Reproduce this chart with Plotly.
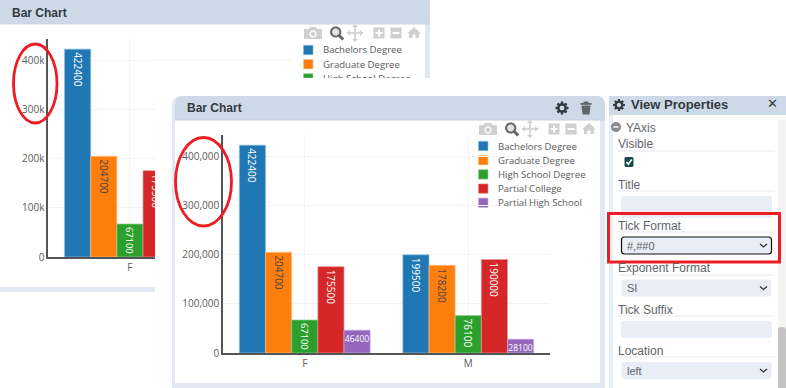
import math
import plotly.graph_objects as go

W, H = 786, 388

categories = ["F", "M"]
series_names = ["Bachelors Degree", "Graduate Degree", "High School Degree", "Partial College", "Partial High School"]
bachelors = [422400, 199500]
graduate = [204700, 178200]
high_school = [67100, 76100]
partial_college = [175500, 190000]
partial_high_school = [46400, 28100]
series_values = [bachelors, graduate, high_school, partial_college, partial_high_school]
series_colors = ["#1f77b4", "#ff7f0e", "#2ca02c", "#d62728", "#9467bd"]
series_edges = ["#8fbbd9", "#ffbf86", "#95cf95", "#ea9393", "#c9b3de"]
text_colors = ["#ffffff", "#444444", "#ffffff", "#ffffff", "#ffffff"]
text_angles = [90, 90, 90, 90, 0]
text_sizes = [10, 10, 10, 10, 8.5]
y_ticks = [0, 100000, 200000, 300000, 400000]
y_top = 443000

HEAD = "#cdd9e6"
STRIP = "#e1e8f1"
FIELD = "#e9edf5"
FONT = "Open Sans"
UI = "Liberation Sans"
fx = lambda px: px / W
fy = lambda py: 1 - py / H

shapes, notes = [], []

def pt(x, y):
    return f"{fx(x):.5f} {fy(y):.5f}"

def poly(pts, close=True):
    return "M" + " L".join(pt(x, y) for x, y in pts) + (" Z" if close else "")

def add_path(path, fill=None, line=None, width=0, layer="below"):
    s = dict(type="path", xref="paper", yref="paper", path=path, layer=layer, line=dict(width=width, color=line or "rgba(0,0,0,0)"))
    s["fillcolor"] = fill if fill else "rgba(0,0,0,0)"
    shapes.append(s)

def rect(x0, y0, x1, y1, fill=None, line=None, width=0, layer="below"):
    shapes.append(dict(type="rect", xref="paper", yref="paper", x0=fx(x0), x1=fx(x1), y0=fy(y0), y1=fy(y1), layer=layer,
                       fillcolor=fill or "rgba(0,0,0,0)", line=dict(width=width, color=line or "rgba(0,0,0,0)")))

def rrect(x0, y0, x1, y1, tl=0, tr=0, br=0, bl=0, fill=None, line=None, width=0, layer="below"):
    p = f"M{pt(x0 + tl, y0)} L{pt(x1 - tr, y0)} Q{pt(x1, y0)} {pt(x1, y0 + tr)} L{pt(x1, y1 - br)} Q{pt(x1, y1)} {pt(x1 - br, y1)} L{pt(x0 + bl, y1)} Q{pt(x0, y1)} {pt(x0, y1 - bl)} L{pt(x0, y0 + tl)} Q{pt(x0, y0)} {pt(x0 + tl, y0)} Z"
    add_path(p, fill, line, width, layer)

def hline(x0, x1, y, color, width=1):
    add_path(poly([(x0, y), (x1, y)], False), None, color, width)

def circle(cx, cy, rx, ry=None, n=40):
    ry = ry or rx
    return [(cx + rx * math.cos(2 * math.pi * i / n), cy + ry * math.sin(2 * math.pi * i / n)) for i in range(n)]

def text(x, y, s, size=12, color="#555555", family=UI, anchor="left", bold=False):
    notes.append(dict(xref="paper", yref="paper", x=fx(x - (1 if anchor == "left" else 0)), y=fy(y), text=f"<b>{s}</b>" if bold else s, showarrow=False,
                      xanchor=anchor, yanchor="middle", borderpad=0, font=dict(size=size, color=color, family=family)))

def toolbar(ox, oy):
    c = "#cfcfcf"
    add_path(poly([(ox + x, oy + y) for x, y in [(-9, -4), (-4, -4), (-3, -6), (3, -6), (4, -4), (9, -4), (9, 6), (-9, 6)]]), c)
    add_path(poly(circle(ox, oy + 1, 3.6)), "#ffffff")
    add_path(poly(circle(ox, oy + 1, 2.2)), c)
    # zoom (active)
    mx = ox + 23.7
    add_path(poly(circle(mx - 1, oy - 1, 4.6), True), "#e3e3e3", "#666666", 2)
    add_path(poly([(mx + 2.5, oy + 2.5), (mx + 6.5, oy + 6.5)], False), None, "#666666", 3)
    # pan
    px = ox + 42
    add_path(poly([(px - 8, oy), (px + 8, oy)], False), None, c, 1.6)
    add_path(poly([(px, oy - 8), (px, oy + 8)], False), None, c, 1.6)
    for a, d in [(-8, 3), (8, -3)]:
        add_path(poly([(px + a, oy), (px + a + d, oy - 3), (px + a + d, oy + 3)]), c)
    add_path(poly([(px, oy - 9), (px - 3, oy - 6), (px + 3, oy - 6)]), c)
    add_path(poly([(px, oy + 9), (px - 3, oy + 6), (px + 3, oy + 6)]), c)
    # plus, minus
    bx = ox + 66
    rect(bx - 5.5, oy - 5.5, bx + 5.5, oy + 5.5, c)
    rect(bx - 3.5, oy - 1, bx + 3.5, oy + 1, "#ffffff")
    rect(bx - 1, oy - 3.5, bx + 1, oy + 3.5, "#ffffff")
    bx = ox + 83
    rect(bx - 5.5, oy - 5.5, bx + 5.5, oy + 5.5, c)
    rect(bx - 3.5, oy - 1, bx + 3.5, oy + 1, "#ffffff")
    # home
    hx = ox + 101
    add_path(poly([(hx, oy - 6), (hx + 7, oy + 0.5), (hx + 5, oy + 0.5), (hx + 5, oy + 5), (hx + 1.5, oy + 5), (hx + 1.5, oy + 1.5),
                   (hx - 1.5, oy + 1.5), (hx - 1.5, oy + 5), (hx - 5, oy + 5), (hx - 5, oy + 0.5), (hx - 7, oy + 0.5)]), c)

def legend_rows(x, y0, rows):
    for i in range(rows):
        y = y0 + i * 14.2
        bottom = min(y + 4.7, 78) if x < 400 else y + 4.7
        rect(x, y - 4.7, x + 9.5, bottom, series_colors[i], series_edges[i], 0.6)
        text(x + 19.8, y, series_names[i], 9.6, "#5a5a5a", FONT)

# ---- back panel -----------------------------------------------------------
rrect(0, -6, 430, 78, tr=9, fill=STRIP)
rect(0, 78, 155, 292, STRIP)
rrect(-2, -6, 430, 24, tr=9, fill=HEAD)
rect(0, 24, 425, 78, "#ffffff")
rect(0, 24, 155, 287, "#ffffff")
rect(0, 23.5, 430, 24.5, "#c9d6e5")
text(12, 13, "Bar Chart", 12, "#333a40", UI, bold=True)
hline(155, 293, 60, "#f2f2f2")
rect(293, 30, 425, 78, "#ffffff")
toolbar(313, 33)

# ---- front panel ----------------------------------------------------------
rect(155, 78, 786, 388, "#ffffff")
rrect(172, 96, 605, 388, tl=9, tr=9, fill=STRIP)
rect(175, 120, 600, 383, "#ffffff")
rrect(175, 96, 605, 120, tl=9, tr=9, fill=HEAD)
rect(175, 119.5, 605, 120.5, "#c2d0e0")
text(187, 108, "Bar Chart", 12, "#333a40", UI, bold=True)
toolbar(488, 129)
rect(478, 138, 600, 212, "#ffffff")

def gear(cx, cy, r, fill, hole):
    pts = []
    for i in range(8):
        a = i * math.pi / 4
        for da, rr in [(-0.30, r * 0.72), (-0.16, r), (0.16, r), (0.30, r * 0.72)]:
            pts.append((cx + rr * math.cos(a + da), cy + rr * math.sin(a + da)))
    add_path(poly(pts), fill)
    add_path(poly(circle(cx, cy, r * 0.36, n=20)), hole)

gear(562, 108, 6.6, "#333a40", HEAD)
# trash can
rect(580.5, 103, 591.5, 104.8, "#5f666c")
rect(583.5, 101.5, 588.5, 103, "#5f666c")
add_path(poly([(581.5, 105.5), (590.5, 105.5), (589.5, 114.5), (582.5, 114.5)]), "#5f666c")

# ---- properties panel -----------------------------------------------------
rect(609, 96, 786, 388, "#e8eef5")
rect(613, 120, 778, 388, "#ffffff")
rect(778, 120, 786, 388, "#f4f4f4")
rrect(778, 327, 786, 388, tl=3, tr=3, fill="#c4c4c4")
rect(609, 96, 786, 115, HEAD)
rect(613, 115, 786, 120, "#ffffff")
gear(619, 105, 6, "#333a40", HEAD)
text(631, 105, "View Properties", 13, "#333a40", UI, bold=True)
text(772, 104, "✕", 13, "#333a40", "DejaVu Sans", "center")
add_path(poly(circle(616, 127, 5)), "#8c8c8c")
rect(613.5, 126.3, 618.5, 127.7, "#ffffff")
text(626, 128, "YAxis", 12, "#5f6468")
for label, yl, yr in [("Visible", 144, 151), ("Title", 185, 191), ("Tick Format", 226, 232),
                      ("Exponent Format", 268, 275), ("Tick Suffix", 310, 316), ("Location", 351, 357)]:
    text(618, yl, label, 12, "#5f6468")
    hline(618, 775, yr, "#e6e9ee")
rrect(624.5, 157, 633.5, 167, 1.5, 1.5, 1.5, 1.5, fill="#174a4a")
add_path(poly([(626.5, 162), (628.3, 164.3), (631.8, 159.5)], False), None, "#ffffff", 1.6)
rrect(621, 196, 772, 218, 3, 3, 0, 0, fill=FIELD)
rrect(621, 321, 772, 338, 3, 3, 3, 3, fill=FIELD)
for y0, y1, value, border in [(237, 254, "#,##0", True), (279.5, 296.5, "SI", False), (362, 379, "left", False)]:
    rrect(621.5, y0, 771.5, y1, 3, 3, 3, 3, fill=FIELD, line="#111111" if border else None, width=1.2 if border else 0)
    text(627, (y0 + y1) / 2, value, 11, "#5f6468")
    ym = (y0 + y1) / 2
    add_path(poly([(760, ym - 1.5), (763.5, ym + 1.5), (767, ym - 1.5)], False), None, "#333333", 1.3)

# ---- legends --------------------------------------------------------------
legend_rows(303.5, 50, 3)
legend_rows(478.5, 146, 5)
# hides the lower half of the back legend's last row, as the front window does
notes.append(dict(xref="paper", yref="paper", x=fx(290), y=fy(78), xanchor="left", yanchor="top", width=140, height=15,
                  text=" ", showarrow=False, bgcolor="#ffffff", borderpad=0, borderwidth=0))

# ---- annotation marks -----------------------------------------------------
red = dict(color="#ee1c25", width=2.8)
for x0, y0, x1, y1 in [(13.5, 44, 57, 123), (175.5, 137.5, 231.5, 226)]:
    shapes.append(dict(type="circle", xref="paper", yref="paper", x0=fx(x0), x1=fx(x1), y0=fy(y0), y1=fy(y1), line=red, layer="above"))
shapes.append(dict(type="rect", xref="paper", yref="paper", x0=fx(608.5), x1=fx(779.5), y0=fy(213.5), y1=fy(262),
                   line=dict(color="#ee1c25", width=3), layer="above"))

# ---- charts ---------------------------------------------------------------
fig = go.Figure()
for i, name in enumerate(series_names):
    for xa, ya in [("x", "y"), ("x2", "y2")]:
        fig.add_trace(go.Bar(
            x=categories, y=series_values[i], name=name, xaxis=xa, yaxis=ya, showlegend=False,
            text=[str(v) for v in series_values[i]], textposition="inside", insidetextanchor="end",
            textangle=text_angles[i], constraintext="none" if text_angles[i] == 0 else "inside",
            insidetextfont=dict(color=text_colors[i], size=text_sizes[i], family=FONT),
            marker=dict(color=series_colors[i], line=dict(color=series_edges[i], width=0.7)),
        ))

def y_axis(fmt, domain, anchor):
    return dict(domain=domain, range=[0, y_top], tickvals=y_ticks, tickformat=fmt, showgrid=True, gridcolor="#f3f3f3",
                gridwidth=1, zeroline=False, showline=True, linecolor="#555555", linewidth=1.5, ticks="", automargin=False,
                tickfont=dict(size=10, color="#5a5a5a", family=FONT), anchor=anchor)

def x_axis(domain, rng, anchor):
    return dict(domain=domain, range=rng, type="category", showgrid=True, gridcolor="#f3f3f3", gridwidth=1, zeroline=False,
                showline=True, linecolor="#555555", linewidth=1.5, ticks="", automargin=False,
                tickfont=dict(size=10, color="#5a5a5a", family=FONT), anchor=anchor)

fig.update_layout(
    template="none", font=dict(family=FONT),
    width=W, height=H, autosize=False, margin=dict(l=0, r=0, t=0, b=0, pad=0), paper_bgcolor="#ffffff", plot_bgcolor="rgba(0,0,0,0)",
    barmode="group", bargap=0.2, bargroupgap=0, showlegend=False,
    xaxis=x_axis([fx(48.2), fx(155)], [-0.5, (155 - 48.2) / 163.5 - 0.5], "y"),
    yaxis=y_axis("~s", [fy(257), fy(39)], "x"),
    xaxis2=x_axis([fx(223), fx(550)], [-0.5, 1.5], "y2"),
    yaxis2=y_axis(",d", [fy(353), fy(135)], "x2"),
    shapes=shapes, annotations=notes,
)
fig.write_html("out.html", config=dict(displayModeBar=False),
               post_script="document.body.style.margin='0';document.body.style.overflow='hidden';")
